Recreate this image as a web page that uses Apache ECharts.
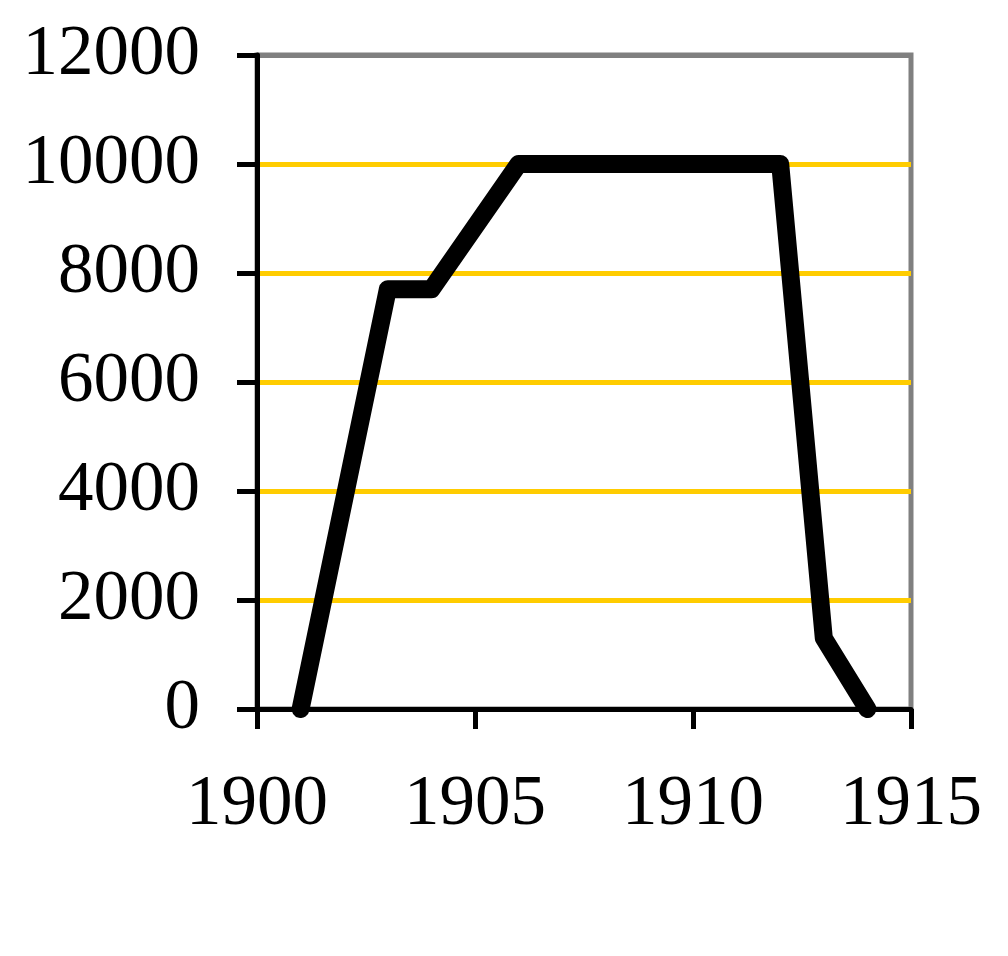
<!DOCTYPE html>
<html>
<head>
<meta charset="utf-8">
<script src="https://cdn.jsdelivr.net/npm/echarts@6/dist/echarts.min.js"></script>
<style>html,body{margin:0;padding:0;background:#fff}#c{width:1008px;height:956px}</style>
</head>
<body>
<div id="c"></div>
<script>
const years = [1901, 1903, 1904, 1906, 1912, 1913, 1914];
const values = [0, 7700, 7700, 10000, 10000, 1300, 0];
const xTicks = [1900, 1905, 1910, 1915];
const yTicks = [0, 2000, 4000, 6000, 8000, 10000, 12000];

const chart = echarts.init(document.getElementById('c'));
const font = 'Liberation Serif, Times New Roman, serif';
chart.setOption({
  animation: false,
  backgroundColor: '#fff',
  grid: {left: 257, top: 55, width: 654, height: 654, show: true, borderColor: '#808080', borderWidth: 5, backgroundColor: 'transparent'},
  xAxis: {
    type: 'value', min: xTicks[0], max: xTicks[xTicks.length-1], interval: 5,
    axisLine: {show: true, lineStyle: {color: '#000', width: 5}},
    axisTick: {show: true, length: 20, lineStyle: {color: '#000', width: 5}},
    axisLabel: {color: '#000', fontFamily: font, fontSize: 71, margin: 61, formatter: v => String(v)},
    splitLine: {show: false}
  },
  yAxis: {
    type: 'value', min: yTicks[0], max: yTicks[yTicks.length-1], interval: 2000,
    axisLine: {show: true, lineStyle: {color: '#000', width: 5}},
    axisTick: {show: true, length: 20, lineStyle: {color: '#000', width: 5}},
    axisLabel: {color: '#000', fontFamily: font, fontSize: 71, margin: 57, formatter: v => String(v)},
    splitLine: {show: true, lineStyle: {width: 5, color: ['#000', '#FFCC00', '#FFCC00', '#FFCC00', '#FFCC00', '#FFCC00', '#808080']}}
  },
  series: [{
    type: 'line',
    data: years.map((y, i) => [y, values[i]]),
    showSymbol: false,
    lineStyle: {color: '#000', width: 18, cap: 'round', join: 'round'},
    z: 5
  }]
});
</script>
</body>
</html>
